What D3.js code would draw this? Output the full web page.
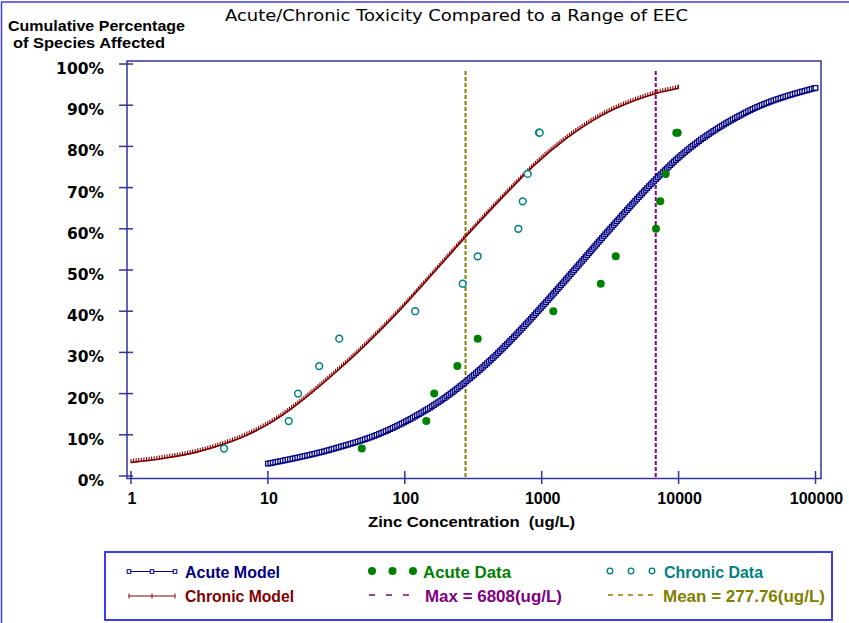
<!DOCTYPE html>
<html>
<head>
<meta charset="utf-8">
<script src="https://cdn.jsdelivr.net/npm/d3@7"></script>
<style>
body{margin:0;background:#fff;}
svg{display:block;}
text{white-space:pre;}
</style>
</head>
<body>
<svg id="chart" width="849" height="623"></svg>
<script>
// values
const acuteModelConc = [10, 31.6, 65.9, 115, 202, 277, 419, 621, 973, 1905, 3162, 6808, 10000, 31623, 100000];
const acuteModelPct  = [3.0, 6.8, 10.3, 14.2, 19.3, 22.8, 28.0, 33.6, 40.6, 51.6, 60.0, 72.0, 77.3, 88.4, 94.2];
const chronicModelConc = [1, 1.74, 3.02, 4.83, 7.0, 9.84, 31.6, 92.3, 161, 283, 586, 869, 1524, 2667, 4667, 6918, 9954];
const chronicModelPct  = [3.3, 4.3, 5.8, 7.8, 9.9, 12.4, 25.3, 40.3, 49.2, 58.3, 69.5, 75.2, 82.0, 87.3, 91.0, 92.9, 94.1];
const acuteDataConc = [48.5, 143.6, 164, 242, 341, 1216, 2700, 3473, 6839, 7350, 8050, 9620, 9850];
const acuteDataPct  = [6.67, 13.33, 20, 26.67, 33.33, 40, 46.67, 53.33, 60, 66.67, 73.33, 83.33, 83.33];
const chronicDataConc = [4.78, 14.2, 16.6, 23.7, 33.2, 119, 265, 341, 675, 727, 790, 955, 968];
const chronicDataPct  = [6.67, 13.33, 20, 26.67, 33.33, 40, 46.67, 53.33, 60, 66.67, 73.33, 83.33, 83.33];
const maxEEC = 6808;
const meanEEC = 277.76;
const xTicks = [1, 10, 100, 1000, 10000, 100000];
const yTicks = [0, 10, 20, 30, 40, 50, 60, 70, 80, 90, 100];

const C = {
	axis:'#33339a', acute:'#000080', chronic:'#800000', green:'#008000',
	teal:'#008080', max:'#800080', mean:'#808000', frame:'#3c3ce8'
};
const bold = '"Liberation Sans", Arial, sans-serif';

const svg = d3.select('#chart');
const x = d3.scaleLog().domain([1,100000]).range([131,815.5]);
const y = d3.scaleLinear().domain([0,100]).range([476,64]);

//outer frame
svg.append('line').attr('x1',1).attr('x2',849).attr('y1',2).attr('y2',2)
	.style('stroke',C.frame).style('stroke-width',1.5);
svg.append('line').attr('x1',1.5).attr('x2',1.5).attr('y1',2).attr('y2',623)
	.style('stroke',C.frame).style('stroke-width',1.5);

//title
svg.append('text')
	.attr('x',225).attr('y',21)
	.attr('textLength',463).attr('lengthAdjust','spacingAndGlyphs')
	.style('font-family','"DejaVu Sans", sans-serif').style('font-size','16.5px')
	.text('Acute/Chronic Toxicity Compared to a Range of EEC');

//y title
svg.append('text').attr('x',8).attr('y',31)
	.attr('textLength',177).attr('lengthAdjust','spacingAndGlyphs')
	.style('font-family',bold).style('font-weight','bold').style('font-size','15px')
	.text('Cumulative Percentage');
svg.append('text').attr('x',13).attr('y',48)
	.attr('textLength',152).attr('lengthAdjust','spacingAndGlyphs')
	.style('font-family',bold).style('font-weight','bold').style('font-size','15px')
	.text('of Species Affected');

//plot frame
const plot = svg.append('g');
plot.append('rect')
	.attr('x',127).attr('y',61)
	.attr('width',821-127).attr('height',478.5-61)
	.style('fill','none').style('stroke',C.axis).style('stroke-width',1.5);

//y ticks
plot.selectAll('.ytick').data(yTicks).enter()
	.append('line').attr('class','ytick')
	.attr('x1',119).attr('x2',133)
	.attr('y1',d=>y(d)).attr('y2',d=>y(d))
	.style('stroke',C.axis).style('stroke-width',1.5);
plot.selectAll('.ylab').data(yTicks).enter()
	.append('text').attr('class','ylab')
	.attr('x',104).attr('y',d=>y(d)+10)
	.attr('text-anchor','end')
	.style('font-family','"DejaVu Sans", sans-serif').style('font-weight','bold').style('font-size','15.5px')
	.text(d=>d+'%');

//x ticks
plot.selectAll('.xtick').data(xTicks).enter()
	.append('line').attr('class','xtick')
	.attr('x1',d=>x(d)).attr('x2',d=>x(d))
	.attr('y1',471).attr('y2',484)
	.style('stroke',C.axis).style('stroke-width',1.5);
plot.selectAll('.xlab').data(xTicks).enter()
	.append('text').attr('class','xlab')
	.attr('x',d=>x(d)+1).attr('y',504)
	.attr('text-anchor','middle')
	.style('font-family',bold).style('font-weight','bold').style('font-size','16px')
	.text(d=>d);

svg.append('text').attr('x',368).attr('y',527)
	.attr('textLength',207).attr('lengthAdjust','spacingAndGlyphs')
	.style('font-family',bold).style('font-weight','bold').style('font-size','15.5px')
	.text('Zinc Concentration  (ug/L)');

//EEC lines
[[meanEEC,C.mean],[maxEEC,C.max]].forEach(([v,col])=>{
	plot.append('line')
		.attr('x1',x(v)).attr('x2',x(v))
		.attr('y1',71).attr('y2',478)
		.style('stroke',col).style('stroke-width',2)
		.style('stroke-dasharray','4,2');
});

//models
const line = d3.line().x(d=>x(d[0])).y(d=>y(d[1])).curve(d3.curveMonotoneX);
function sample(path,step){
	const n = path.node(), L = n.getTotalLength(), pts = [];
	for(let l=0;l<=L;l+=step) pts.push(n.getPointAtLength(l));
	pts.push(n.getPointAtLength(L));
	return pts;
}

const chronicPath = plot.append('path')
	.datum(d3.zip(chronicModelConc,chronicModelPct))
	.attr('d',line)
	.style('fill','none').style('stroke',C.chronic).style('stroke-width',1.6);
plot.selectAll('.cmark').data(sample(chronicPath,2.6)).enter()
	.append('line').attr('class','cmark')
	.attr('x1',d=>d.x).attr('x2',d=>d.x)
	.attr('y1',d=>d.y-3.5).attr('y2',d=>d.y+0.8)
	.style('stroke',C.chronic).style('stroke-width',1.1);

const acutePath = plot.append('path')
	.datum(d3.zip(acuteModelConc,acuteModelPct))
	.attr('d',line)
	.style('fill','none').style('stroke',C.acute).style('stroke-width',1.5);
plot.selectAll('.amark').data(sample(acutePath,2.5)).enter()
	.append('rect').attr('class','amark')
	.attr('x',d=>d.x-2.3).attr('y',d=>d.y-2.3)
	.attr('width',4.6).attr('height',4.6)
	.style('fill','white').style('stroke',C.acute).style('stroke-width',1.3);

//data points
plot.selectAll('.adot').data(d3.zip(acuteDataConc,acuteDataPct)).enter()
	.append('circle').attr('class','adot')
	.attr('cx',d=>x(d[0])).attr('cy',d=>y(d[1])).attr('r',4)
	.style('fill',C.green);
plot.selectAll('.cdot').data(d3.zip(chronicDataConc,chronicDataPct)).enter()
	.append('circle').attr('class','cdot')
	.attr('cx',d=>x(d[0])).attr('cy',d=>y(d[1])).attr('r',3.4)
	.style('fill','white').style('stroke',C.teal).style('stroke-width',1.5);

//legend
const lg = svg.append('g');
lg.append('rect').attr('x',105).attr('y',552).attr('width',727).attr('height',68)
	.style('fill','white').style('stroke',C.frame).style('stroke-width',2);

const row1 = 571.5, row2 = 596;
lg.append('line').attr('x1',129).attr('x2',175).attr('y1',row1).attr('y2',row1)
	.style('stroke',C.acute).style('stroke-width',1.2);
lg.selectAll('.lsq').data([129,152,175]).enter()
	.append('rect').attr('class','lsq')
	.attr('x',d=>d-1.8).attr('y',row1-1.8).attr('width',3.6).attr('height',3.6)
	.style('fill','white').style('stroke',C.acute).style('stroke-width',1);
lg.append('line').attr('x1',129).attr('x2',175).attr('y1',row2).attr('y2',row2)
	.style('stroke',C.chronic).style('stroke-width',1.2);
lg.selectAll('.ltk').data([129,152,175]).enter()
	.append('line').attr('class','ltk')
	.attr('x1',d=>d).attr('x2',d=>d).attr('y1',row2-2.5).attr('y2',row2+2.5)
	.style('stroke',C.chronic).style('stroke-width',1);
lg.selectAll('.lg').data([372,392.5,413]).enter()
	.append('circle').attr('class','lg')
	.attr('cx',d=>d).attr('cy',row1-0.5).attr('r',4).style('fill',C.green);
lg.selectAll('.lt').data([610,631,652]).enter()
	.append('circle').attr('class','lt')
	.attr('cx',d=>d).attr('cy',row1-0.5).attr('r',2.8)
	.style('fill','white').style('stroke',C.teal).style('stroke-width',1.3);
lg.append('line').attr('x1',369).attr('x2',416).attr('y1',row2-1).attr('y2',row2-1)
	.style('stroke',C.max).style('stroke-width',1.6).style('stroke-dasharray','6,11');
lg.append('line').attr('x1',608).attr('x2',656).attr('y1',row2-1).attr('y2',row2-1)
	.style('stroke',C.mean).style('stroke-width',1.6).style('stroke-dasharray','5,5');

const legendText = [
	{t:'Acute Model',x:185,y:row1+6,w:95,c:C.acute},
	{t:'Chronic Model',x:185,y:row2+6,w:109,c:C.chronic},
	{t:'Acute Data',x:423,y:row1+6,w:88,c:C.green},
	{t:'Max = 6808(ug/L)',x:425,y:row2+6,w:137,c:C.max},
	{t:'Chronic Data',x:664,y:row1+6,w:99,c:C.teal},
	{t:'Mean = 277.76(ug/L)',x:663,y:row2+6,w:162,c:C.mean}
];
lg.selectAll('.ltx').data(legendText).enter()
	.append('text').attr('class','ltx')
	.attr('x',d=>d.x).attr('y',d=>d.y)
	.attr('textLength',d=>d.w).attr('lengthAdjust','spacingAndGlyphs')
	.style('font-family',bold).style('font-weight','bold').style('font-size','16px')
	.style('fill',d=>d.c)
	.text(d=>d.t);
</script>
</body>
</html>
